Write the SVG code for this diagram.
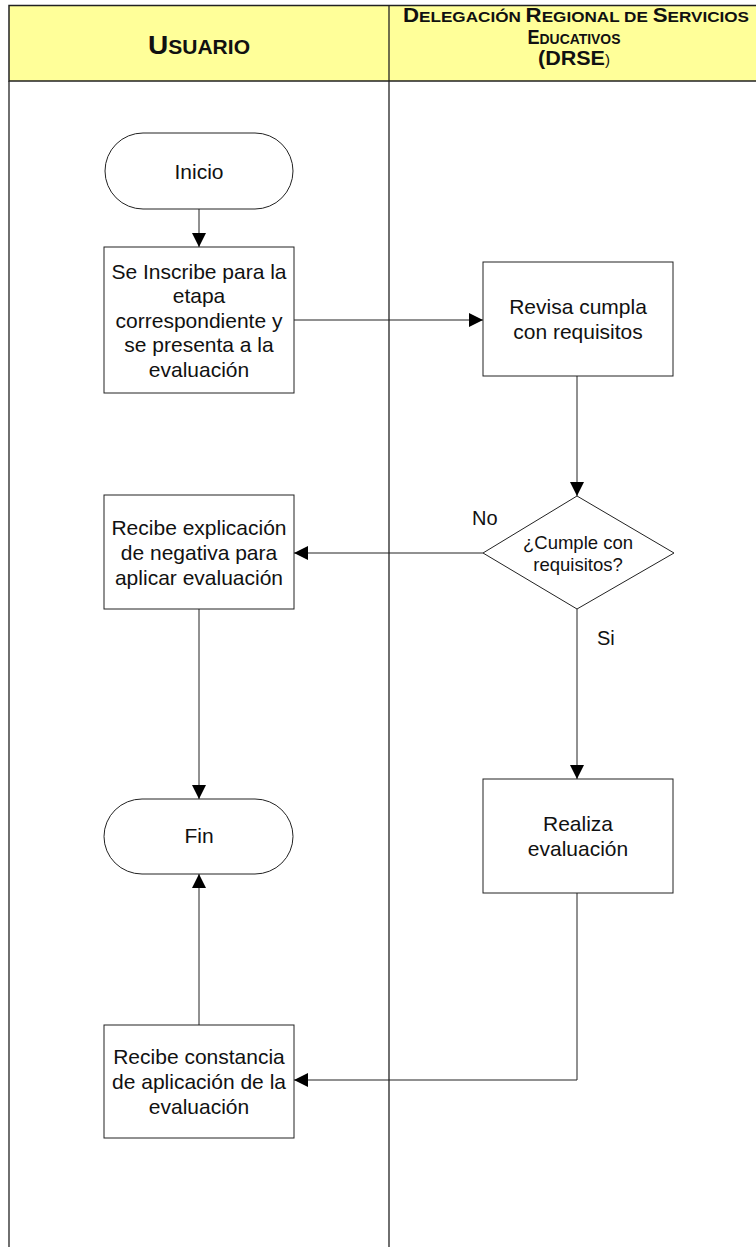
<svg xmlns="http://www.w3.org/2000/svg" width="756" height="1247" viewBox="0 0 756 1247">
<style>
.lane{fill:none;stroke:#222;stroke-width:1.3}
.hdr{fill:#FFFF99;stroke:#222;stroke-width:1.5}
.node{fill:#fff;stroke:#222;stroke-width:1}
.t{font-family:"Liberation Sans",Arial,sans-serif;font-size:21px;fill:#111;text-anchor:middle}
.d{font-family:"Liberation Sans",Arial,sans-serif;font-size:18.5px;fill:#111;text-anchor:middle}
.lbl{font-family:"Liberation Sans",Arial,sans-serif;font-size:20px;fill:#111}
.h{font-family:"Liberation Sans Narrow","Liberation Sans",Arial,sans-serif;font-weight:bold;fill:#111;text-anchor:middle}
.c{fill:none;stroke:#222;stroke-width:1}
</style>
<defs>
<marker id="ah" markerUnits="userSpaceOnUse" markerWidth="14" markerHeight="14" refX="14" refY="7" orient="auto">
<path d="M0,0 L14,7 L0,14 z" fill="#000"/>
</marker>
</defs>
<rect width="756" height="1247" fill="#fff"/>
<g id="lanes">
<rect class="hdr" x="9" y="5.5" width="760" height="75.5"/>
<line class="lane" x1="9" y1="81" x2="9" y2="1247"/>
<line class="lane" x1="389" y1="5.5" x2="389" y2="1247"/>
<text class="h" x="199" y="54" textLength="102" lengthAdjust="spacingAndGlyphs"><tspan font-size="26">U</tspan><tspan font-size="19.5">SUARIO</tspan></text>
<text class="h" x="576" y="22" textLength="346" lengthAdjust="spacingAndGlyphs"><tspan font-size="19.5">D</tspan><tspan font-size="15">ELEGACIÓN </tspan><tspan font-size="19.5">R</tspan><tspan font-size="15">EGIONAL DE </tspan><tspan font-size="19.5">S</tspan><tspan font-size="15">ERVICIOS</tspan></text>
<text class="h" x="574" y="44" textLength="93" lengthAdjust="spacingAndGlyphs"><tspan font-size="19.5">E</tspan><tspan font-size="15">DUCATIVOS</tspan></text>
<text class="h" x="574" y="65" textLength="72" lengthAdjust="spacingAndGlyphs"><tspan font-size="20">(DRSE</tspan><tspan font-size="14" font-weight="normal">)</tspan></text>
</g>
<g id="connectors">
<line class="c" x1="199" y1="209" x2="199" y2="247" marker-end="url(#ah)"/>
<line class="c" x1="294" y1="320" x2="483" y2="320" marker-end="url(#ah)"/>
<line class="c" x1="577" y1="376" x2="577" y2="496" marker-end="url(#ah)"/>
<line class="c" x1="483" y1="553" x2="294" y2="553" marker-end="url(#ah)"/>
<line class="c" x1="577" y1="609" x2="577" y2="779" marker-end="url(#ah)"/>
<line class="c" x1="199" y1="609" x2="199" y2="799" marker-end="url(#ah)"/>
<polyline class="c" points="577,893 577,1080 294,1080" marker-end="url(#ah)"/>
<line class="c" x1="199" y1="1025" x2="199" y2="874" marker-end="url(#ah)"/>
<text class="lbl" x="472" y="525">No</text>
<text class="lbl" x="597" y="645">Si</text>
</g>
<g id="inicio">
<rect class="node" x="105" y="133" width="188" height="76" rx="38" ry="38"/>
<text class="t" x="199" y="178.5">Inicio</text>
</g>
<g id="inscribe">
<rect class="node" x="104" y="247" width="190" height="146"/>
<text class="t" x="199" y="278.5">Se Inscribe para la</text>
<text class="t" x="199" y="303">etapa</text>
<text class="t" x="199" y="327.5">correspondiente y</text>
<text class="t" x="199" y="352">se presenta a la</text>
<text class="t" x="199" y="376.5">evaluación</text>
</g>
<g id="revisa">
<rect class="node" x="483" y="262" width="190" height="114"/>
<text class="t" x="578" y="314">Revisa cumpla</text>
<text class="t" x="578" y="338.5">con requisitos</text>
</g>
<g id="cumple">
<polygon class="node" points="577,496 674,553 577,609 483,553"/>
<text class="d" x="578" y="548.5">¿Cumple con</text>
<text class="d" x="578" y="570.5">requisitos?</text>
</g>
<g id="negativa">
<rect class="node" x="104" y="495" width="190" height="114"/>
<text class="t" x="199" y="535">Recibe explicación</text>
<text class="t" x="199" y="560">de negativa para</text>
<text class="t" x="199" y="585">aplicar evaluación</text>
</g>
<g id="fin">
<rect class="node" x="104" y="799" width="189" height="75" rx="38" ry="37.5"/>
<text class="t" x="199" y="843">Fin</text>
</g>
<g id="realiza">
<rect class="node" x="483" y="779" width="190" height="114"/>
<text class="t" x="578" y="831">Realiza</text>
<text class="t" x="578" y="856">evaluación</text>
</g>
<g id="constancia">
<rect class="node" x="104" y="1025" width="190" height="113"/>
<text class="t" x="199" y="1064">Recibe constancia</text>
<text class="t" x="199" y="1089">de aplicación de la</text>
<text class="t" x="199" y="1114">evaluación</text>
</g>
</svg>
